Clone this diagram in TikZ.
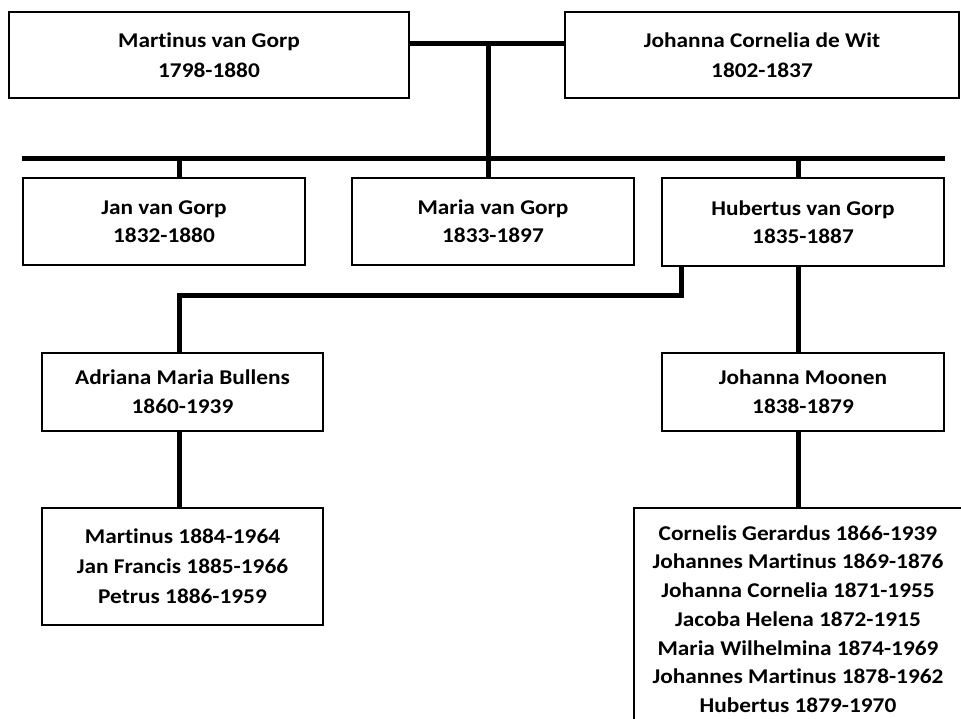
\documentclass[tikz,border=0pt]{standalone}
\usepackage{fontspec}
\setmainfont{Carlito}[FakeStretch=1.11, Ligatures=NoCommon]

\begin{document}
\begin{tikzpicture}[x=1pt, y=-1pt,
    person/.style={draw, line width=1.5pt, inner sep=0pt, align=center,
        font=\fontsize{21}{30}\selectfont\bfseries},
    link/.style={line width=5pt}]

    % constants
    \def\ybar{158}
    \def\yfork{295}

    % page
    \clip (0,0) rectangle (961,718);
    \fill[white] (0,0) rectangle (961,718);

    % parents
    \node [person, minimum width=400pt, minimum height=86pt] (martinus) at (209,55) {Martinus van Gorp\\1798-1880};
    \node [person, minimum width=394pt, minimum height=86pt] (dewit) at (762,55) {Johanna Cornelia de Wit\\1802-1837};

    % children of Martinus
    \node [person, minimum width=282pt, minimum height=87pt, font=\fontsize{21}{28}\selectfont\bfseries] (jan) at (164,221.5) {Jan van Gorp\\1832-1880};
    \node [person, minimum width=282pt, minimum height=87pt, font=\fontsize{21}{28}\selectfont\bfseries] (maria) at (493,221.5) {Maria van Gorp\\1833-1897};
    \node [person, minimum width=282pt, minimum height=88pt, font=\fontsize{21}{28}\selectfont\bfseries] (hubertus) at (803,222) {Hubertus van Gorp\\1835-1887};

    % wives of Hubertus
    \node [person, minimum width=281pt, minimum height=78pt, font=\fontsize{21}{29}\selectfont\bfseries] (bullens) at (182.5,392) {Adriana Maria Bullens\\1860-1939};
    \node [person, minimum width=282pt, minimum height=78pt, font=\fontsize{21}{29}\selectfont\bfseries] (moonen) at (803,392) {Johanna Moonen\\1838-1879};

    % grandchildren
    \node [person, minimum width=281pt, minimum height=117pt] (kidsbullens) at (182.5,566.5) {Martinus 1884-1964\\Jan Francis 1885-1966\\Petrus 1886-1959};
    \node [person, minimum width=328pt, minimum height=222pt, font=\fontsize{21}{28.7}\selectfont\bfseries] (kidsmoonen) at (798,619)
        {Cornelis Gerardus 1866-1939\\Johannes Martinus 1869-1876\\Johanna Cornelia 1871-1955\\Jacoba Helena 1872-1915\\Maria Wilhelmina 1874-1969\\Johannes Martinus 1878-1962\\Hubertus 1879-1970};

    % marriage and sibling bar
    \coordinate (wed) at (488,43);
    \coordinate (bar) at (0,\ybar);
    \draw[link] (martinus.east |- wed) -- (dewit.west |- wed);
    \draw[link] (wed) -- (wed |- bar);
    \draw[link] (jan.north west |- bar) -- (hubertus.north east |- bar);

    % drops to the children
    \coordinate (d1) at (179,\ybar);
    \coordinate (d2) at (488,\ybar);
    \coordinate (d3) at (798,\ybar);
    \draw[link] (d1) -- (d1 |- jan.north);
    \draw[link] (d2) -- (d2 |- maria.north);
    \draw[link] (d3) -- (d3 |- hubertus.north);

    % Hubertus to his wives
    \draw[link] ([xshift=20pt]hubertus.south west) |- (d1 |- 0,\yfork) -- (d1 |- bullens.north);
    \draw[link] (d3 |- hubertus.south) -- (d3 |- moonen.north);

    % wives to their children
    \draw[link] (d1 |- bullens.south) -- (d1 |- kidsbullens.north);
    \draw[link] (d3 |- moonen.south) -- (d3 |- kidsmoonen.north);

\end{tikzpicture}
\end{document}
